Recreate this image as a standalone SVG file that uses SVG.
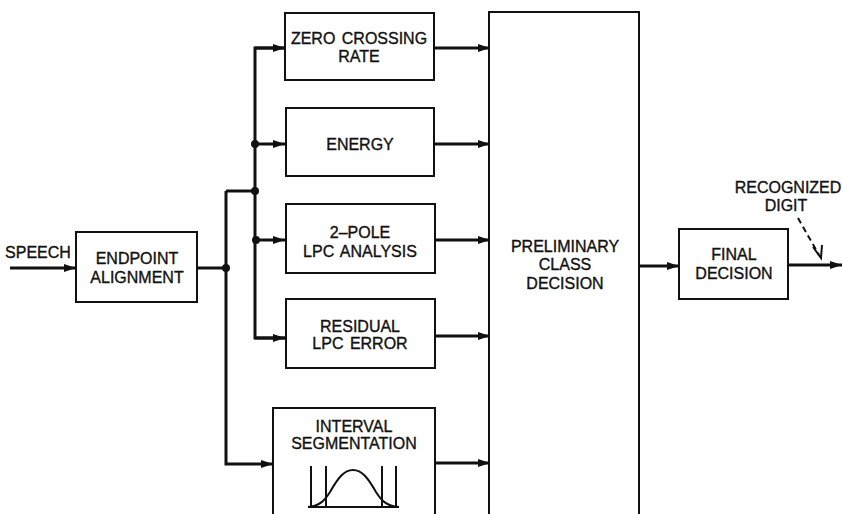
<svg xmlns="http://www.w3.org/2000/svg" width="842" height="514" viewBox="0 0 842 514">
<style>
.box{fill:#fff;stroke:#111;stroke-width:2}
.t{font-family:"Liberation Sans",Arial,sans-serif;font-size:16px;fill:#111;stroke:#111;stroke-width:0.35;text-anchor:middle}
.c{fill:none;stroke:#111;stroke-width:3}
.dot{fill:#111}
.thin{fill:none;stroke:#111;stroke-width:2}
</style>
<defs>
<marker id="ah" viewBox="0 0 12 8" refX="12" refY="4" markerWidth="12" markerHeight="8" markerUnits="userSpaceOnUse" orient="auto">
<path d="M0,0 L12,4 L0,8 Z" fill="#111"/>
</marker>
</defs>
<rect width="842" height="514" fill="#fff"/>
<g id="connectors">
<line class="c" x1="10" y1="268" x2="76" y2="268" marker-end="url(#ah)"/>
<line class="c" x1="197" y1="268" x2="226" y2="268"/>
<polyline class="c" points="226,191 226,464 273,464" marker-end="url(#ah)"/>
<line class="c" x1="226" y1="191" x2="255" y2="191"/>
<polyline class="c" points="285,48 255,48 255,338 285,338"/>
<line class="c" x1="255" y1="48" x2="285" y2="48" marker-end="url(#ah)"/>
<line class="c" x1="255" y1="144" x2="285" y2="144" marker-end="url(#ah)"/>
<line class="c" x1="255" y1="240" x2="285" y2="240" marker-end="url(#ah)"/>
<line class="c" x1="255" y1="338" x2="285" y2="338" marker-end="url(#ah)"/>
<line class="c" x1="434" y1="48" x2="490" y2="48" marker-end="url(#ah)"/>
<line class="c" x1="434" y1="144" x2="490" y2="144" marker-end="url(#ah)"/>
<line class="c" x1="435" y1="240" x2="490" y2="240" marker-end="url(#ah)"/>
<line class="c" x1="435" y1="336" x2="490" y2="336" marker-end="url(#ah)"/>
<line class="c" x1="435" y1="463" x2="490" y2="463" marker-end="url(#ah)"/>
<line class="c" x1="639" y1="266" x2="679" y2="266" marker-end="url(#ah)"/>
<line class="c" x1="788" y1="265" x2="842" y2="265" marker-end="url(#ah)"/>
<circle class="dot" cx="226" cy="268" r="4"/>
<circle class="dot" cx="255" cy="191" r="4"/>
<circle class="dot" cx="255" cy="144" r="4"/>
<circle class="dot" cx="256" cy="240" r="4"/>
<line x1="798" y1="218" x2="819" y2="255" stroke="#111" stroke-width="2" stroke-dasharray="6,4"/>
<polyline points="813,247 821,258 822,245" fill="none" stroke="#111" stroke-width="2"/>
</g>
<g id="speech">
<text class="t" x="38" y="258" font-size="15">SPEECH</text>
</g>
<g id="endpoint">
<rect class="box" x="76" y="232" width="121" height="70"/>
<text class="t" x="137" y="264">ENDPOINT</text>
<text class="t" x="137" y="283">ALIGNMENT</text>
</g>
<g id="zcr">
<rect class="box" x="285" y="13" width="149" height="67"/>
<text class="t" x="359" y="44" word-spacing="2">ZERO CROSSING</text>
<text class="t" x="359" y="62">RATE</text>
</g>
<g id="energy">
<rect class="box" x="286" y="108" width="148" height="68"/>
<text class="t" x="360" y="150">ENERGY</text>
</g>
<g id="lpc2">
<rect class="box" x="286" y="204" width="149" height="69"/>
<text class="t" x="360" y="238">2–POLE</text>
<text class="t" x="360" y="257" word-spacing="2">LPC ANALYSIS</text>
</g>
<g id="residual">
<rect class="box" x="286" y="299" width="149" height="69"/>
<text class="t" x="360" y="332">RESIDUAL</text>
<text class="t" x="360" y="349" word-spacing="2">LPC ERROR</text>
</g>
<g id="interval">
<rect class="box" x="273" y="408" width="162" height="120"/>
<text class="t" x="354" y="432">INTERVAL</text>
<text class="t" x="354" y="449">SEGMENTATION</text>
<line class="thin" x1="308" y1="507" x2="399" y2="507"/>
<line class="thin" x1="311" y1="466" x2="311" y2="507"/>
<line class="thin" x1="326" y1="466" x2="326" y2="507"/>
<line class="thin" x1="382" y1="466" x2="382" y2="507"/>
<line class="thin" x1="396" y1="466" x2="396" y2="507"/>
<path class="thin" stroke-width="2.5" d="M308,507 C320,506 325,500 330,492 C338,478 344,470 353,470 C362,470 368,478 376,492 C381,500 386,506 399,507"/>
</g>
<g id="prelim">
<rect class="box" x="489" y="12" width="150" height="520"/>
<text class="t" x="565" y="252">PRELIMINARY</text>
<text class="t" x="565" y="270">CLASS</text>
<text class="t" x="565" y="289">DECISION</text>
</g>
<g id="final">
<rect class="box" x="679" y="229" width="109" height="70"/>
<text class="t" x="734" y="260">FINAL</text>
<text class="t" x="734" y="279">DECISION</text>
</g>
<g id="recognized">
<text class="t" x="788" y="193">RECOGNIZED</text>
<text class="t" x="786" y="211">DIGIT</text>
</g>
</svg>
